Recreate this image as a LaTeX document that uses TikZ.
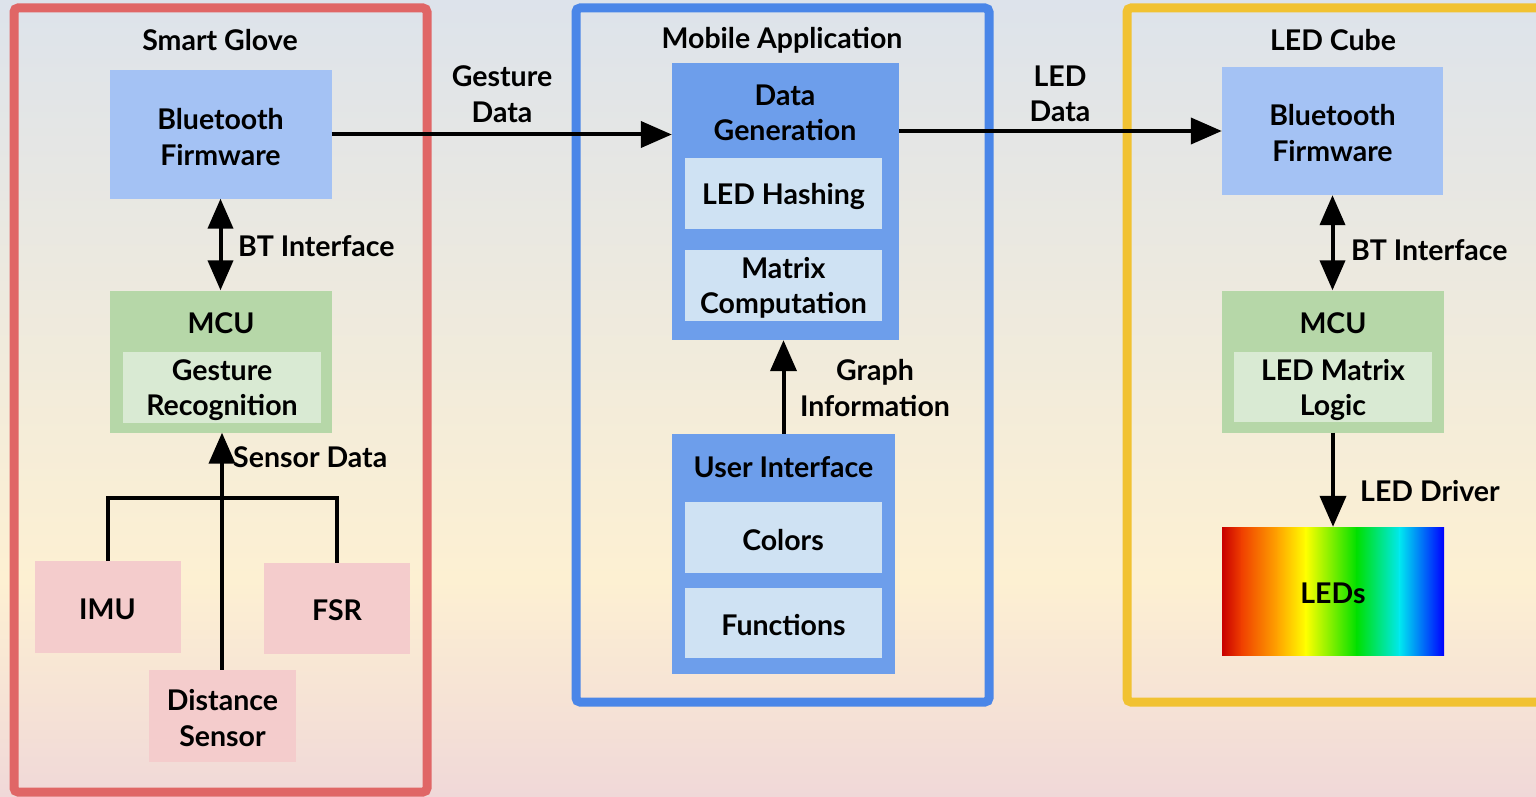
\documentclass[tikz,border=0pt]{standalone}
\usepackage{fontspec}
\setmainfont{Lato}
\usetikzlibrary{arrows.meta}
\definecolor{bgtop}{HTML}{DDE3EB}
\definecolor{bgmid}{HTML}{FDF0D2}
\definecolor{bgbot}{HTML}{F0D8D8}
\definecolor{framered}{HTML}{E06666}
\definecolor{frameblue}{HTML}{4A86E8}
\definecolor{frameyellow}{HTML}{F1C232}
\definecolor{btblue}{HTML}{A4C2F4}
\definecolor{mcugreen}{HTML}{B6D7A8}
\definecolor{innergreen}{HTML}{D9EAD3}
\definecolor{sensorpink}{HTML}{F4CCCC}
\definecolor{appblue}{HTML}{6D9EEB}
\definecolor{innerblue}{HTML}{CFE2F3}
\tikzset{
  txt/.style={font=\fontsize{28.5}{35.5}\selectfont\bfseries, align=center, inner sep=0pt},
  box/.style={rectangle, draw=none, inner sep=0pt},
  frame/.style={line width=9pt, rounded corners=4pt},
  arr/.style={line width=4pt, -{Triangle[length=31pt,width=26pt]}},
  darr/.style={line width=4pt, {Triangle[length=30pt,width=25pt]}-{Triangle[length=30pt,width=25pt]}},
  wire/.style={line width=4pt},
}
\begin{document}
\begin{tikzpicture}[x=1pt,y=-1pt]
\useasboundingbox (0,0) rectangle (1536,797);
% background
\shade[top color=bgtop, bottom color=bgmid] (0,0) rectangle (1536,580);
\shade[top color=bgmid, bottom color=bgbot] (0,580) rectangle (1536,797);

% ---------- Smart Glove ----------
\draw[frame, draw=framered] (14,8) rectangle (427,792);
\node[txt] (tglove) at (220,40) {Smart Glove};
\node[box, fill=btblue, minimum width=222, minimum height=128] (gbt) at (220.5,134.5) {};
\node[txt] (gbtt) at (220.5,137) {Bluetooth\\Firmware};
\node[box, fill=mcugreen, minimum width=222, minimum height=142] (gmcu) at (221,361.5) {};
\node[txt] (gmcut) at (221,323) {MCU};
\node[box, fill=innergreen, minimum width=198, minimum height=71] (ggr) at (222,387.5) {};
\node[txt] (ggrt) at (222,390) {Gesture\\Recognition};
\node[box, fill=sensorpink, minimum width=146, minimum height=92] (imu) at (107.5,607) {};
\node[txt] (imut) at (107.5,609) {IMU};
\node[box, fill=sensorpink, minimum width=146, minimum height=91] (fsr) at (337,608.5) {};
\node[txt] (fsrt) at (337,610) {FSR};
\node[box, fill=sensorpink, minimum width=147, minimum height=92] (ds) at (222.5,716) {};
\node[txt] (dst) at (222.5,718) {Distance\\Sensor};
\coordinate (bus) at (222,498);

\draw[darr] (gbt.south) -- (gbt.south |- gmcu.north);
\node[txt, anchor=west] (lbt1) at (238,246) {BT Interface};
\draw[wire] (imu.north) |- (bus) -| (fsr.north);
\draw[arr] (ds.north -| bus) -- (bus |- gmcu.south);
\node[txt, anchor=west] (lsd) at (233,457) {Sensor Data};

% ---------- Mobile Application ----------
\draw[frame, draw=frameblue] (576,8) rectangle (989,702);
\node[txt] (tapp) at (782,40) {Mobile Application};
\node[box, fill=appblue, minimum width=227, minimum height=277] (dg) at (785.5,201.5) {};
\node[txt] (dgt) at (785,113) {Data\\Generation};
\node[box, fill=innerblue, minimum width=197, minimum height=71] (hash) at (783.5,193.5) {};
\node[txt] (hasht) at (783.5,196) {LED Hashing};
\node[box, fill=innerblue, minimum width=197, minimum height=71] (mat) at (783.5,285.5) {};
\node[txt] (matt) at (783.5,288) {Matrix\\Computation};
\node[box, fill=appblue, minimum width=223, minimum height=240] (ui) at (783.5,554) {};
\node[txt] (uit) at (783.5,467) {User Interface};
\node[box, fill=innerblue, minimum width=197, minimum height=71] (col) at (783,537.5) {};
\node[txt] (colt) at (783,540) {Colors};
\node[box, fill=innerblue, minimum width=197, minimum height=70] (fun) at (783.5,623) {};
\node[txt] (funt) at (783.5,625) {Functions};

\draw[arr] (ui.north) -- (ui.north |- dg.south);
\node[txt] (lgi) at (875,388) {Graph\\Information};

% ---------- LED Cube ----------
\draw[frame, draw=frameyellow] (1127,8) rectangle (1545,702);
\node[txt] (tcube) at (1333,40) {LED Cube};
\node[box, fill=btblue, minimum width=221, minimum height=128] (lbt) at (1332.5,131) {};
\node[txt] (lbtt) at (1332.5,133) {Bluetooth\\Firmware};
\node[box, fill=mcugreen, minimum width=222, minimum height=142] (lmcu) at (1333,361.5) {};
\node[txt] (lmcut) at (1333,323) {MCU};
\node[box, fill=innergreen, minimum width=198, minimum height=70] (lml) at (1333,387) {};
\node[txt] (lmlt) at (1333,390) {LED Matrix\\Logic};

% rainbow LED strip
\shade[left color={rgb,255:red,200;green,0;blue,0}, right color={rgb,255:red,240;green,64;blue,0}] (1222,527) rectangle (1242,655);
\shade[left color={rgb,255:red,240;green,64;blue,0}, right color={rgb,255:red,255;green,165;blue,0}] (1241.5,527) rectangle (1278,655);
\shade[left color={rgb,255:red,255;green,165;blue,0}, right color={rgb,255:red,255;green,255;blue,0}] (1277.5,527) rectangle (1306,655);
\shade[left color={rgb,255:red,255;green,255;blue,0}, right color={rgb,255:red,0;green,224;blue,0}] (1305.5,527) rectangle (1357,655);
\shade[left color={rgb,255:red,0;green,224;blue,0}, right color={rgb,255:red,0;green,232;blue,240}] (1356.5,527) rectangle (1400,655);
\shade[left color={rgb,255:red,0;green,232;blue,240}, right color={rgb,255:red,0;green,0;blue,255}] (1399.5,527) rectangle (1444,655);
\node[box, minimum width=222, minimum height=128] (leds) at (1333,591) {};
\node[txt] (ledst) at (1333,593) {LEDs};

\draw[darr] (lbt.south) -- (lbt.south |- lmcu.north);
\node[txt, anchor=west] (lbt2) at (1351,250) {BT Interface};
\draw[arr] (lmcu.south) -- (leds.north);
\node[txt, anchor=west] (ldrv) at (1360,491) {LED Driver};

% ---------- inter-system links ----------
\draw[arr] (gbt.east) -- (gbt.east -| dg.west);
\node[txt] (lgd) at (502,94) {Gesture\\Data};
\draw[arr] (lbt.west -| dg.east) -- (lbt.west);
\node[txt] (lld) at (1060,94) {LED\\Data};
\end{tikzpicture}
\end{document}
